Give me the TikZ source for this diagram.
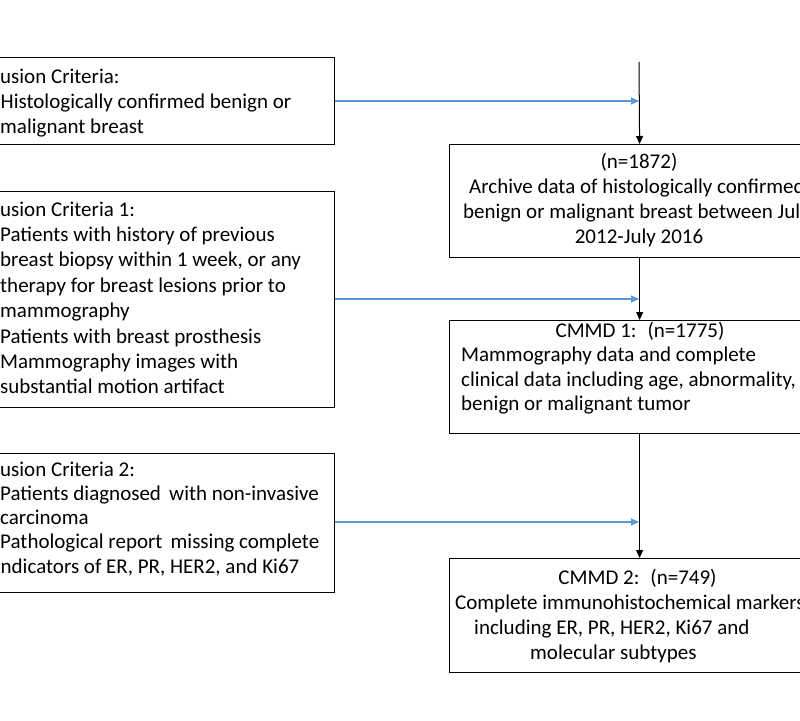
\documentclass[tikz,border=0pt]{standalone}
\usepackage{fontspec}
\setmainfont{Carlito}
\usetikzlibrary{arrows.meta}
\definecolor{arrowblue}{HTML}{5B9BD5}
\begin{document}
\begin{tikzpicture}[x=1pt,y=-1pt,
  box/.style={draw=black,line width=1.2pt,inner sep=0,anchor=north west},
  txt/.style={inner sep=0,font=\fontsize{21}{25}\selectfont},
  bluearrow/.style={draw=arrowblue,line width=1.1pt,-{Triangle[length=8pt,width=7pt]}},
  blackarrow/.style={draw=black,line width=1pt,-{Triangle[length=8pt,width=7pt]}}]
\useasboundingbox (0,0) rectangle (800,720);
\fill[white] (0,0) rectangle (800,720);
\clip (0,0) rectangle (800,720);
% left boxes
\node[box,minimum width=384pt,minimum height=87pt] (lb1) at (-50,57) {};
\node[box,minimum width=384pt,minimum height=216pt] (lb2) at (-50,191) {};
\node[box,minimum width=384pt,minimum height=139pt] (lb3) at (-50,453) {};
% right boxes
\node[box,minimum width=380pt,minimum height=113pt] (rb1) at (449,144) {};
\node[box,minimum width=380pt,minimum height=113pt] (rb2) at (449,320) {};
\node[box,minimum width=380pt,minimum height=114pt] (rb3) at (449,558) {};
% connectors
\coordinate (top) at (639,62);
\coordinate (j1) at (639,101);
\coordinate (j2) at (639,299);
\coordinate (j3) at (639,522);
\draw[blackarrow] (top) -- (rb1.north);
\draw[blackarrow] (rb1.south) -- (rb2.north);
\draw[blackarrow] (rb2.south) -- (rb3.north);
\draw[bluearrow] (lb1.east |- j1) -- (j1);
\draw[bluearrow] (lb2.east |- j2) -- (j2);
\draw[bluearrow] (lb3.east |- j3) -- (j3);
% left box 1 text
\node[txt,anchor=base west] (a1) at (0,83) {usion Criteria:};
\node[txt,anchor=base west] (a2) at (0.5,108) {Histologically confirmed benign or};
\node[txt,anchor=base west] (a3) at (0,133) {malignant breast};
% left box 2 text
\node[txt,anchor=base west] (b1) at (0,216) {usion Criteria 1:};
\node[txt,anchor=base west] (b2) at (0,241.4) {Patients with history of previous};
\node[txt,anchor=base west] (b3) at (0,266.8) {breast biopsy within 1 week, or any};
\node[txt,anchor=base west] (b4) at (0,292.2) {therapy for breast lesions prior to};
\node[txt,anchor=base west] (b5) at (0,317.6) {mammography};
\node[txt,anchor=base west] (b6) at (0,343) {Patients with breast prosthesis};
\node[txt,anchor=base west] (b7) at (0,368.4) {Mammography images with};
\node[txt,anchor=base west] (b8) at (0,393.8) {substantial motion artifact};
% left box 3 text
\node[txt,anchor=base west] (c1) at (0,476) {usion Criteria 2:};
\node[txt,anchor=base west] (c2) at (0,500.3) {Patients diagnosed\, with non-invasive};
\node[txt,anchor=base west] (c3) at (0,524.6) {carcinoma};
\node[txt,anchor=base west] (c4) at (0,548.9) {Pathological report\, missing complete};
\node[txt,anchor=base west] (c5) at (0.5,573.2) {ndicators of ER, PR, HER2, and Ki67};
% right box 1 text
\node[txt,anchor=base] (d1) at (639,168) {(n=1872)};
\node[txt,anchor=base west] (d2) at (469,193) {Archive data of histologically confirmed};
\node[txt,anchor=base west] (d3) at (463,218) {benign or malignant breast between July};
\node[txt,anchor=base] (d4) at (639,243) {2012-July 2016};
% right box 2 text
\node[txt,anchor=base] (e1) at (640,337) {CMMD 1:\hspace{11pt}(n=1775)};
\node[txt,anchor=base west] (e2) at (461,361.5) {Mammography data and complete};
\node[txt,anchor=base west] (e3) at (461,386) {clinical data including age, abnormality,};
\node[txt,anchor=base west] (e4) at (461,410.5) {benign or malignant tumor};
% right box 3 text
\node[txt,anchor=base] (f1) at (637.5,584) {CMMD 2:\hspace{11pt}(n=749)};
\node[txt,anchor=base west] (f2) at (455,609) {Complete immunohistochemical markers};
\node[txt,anchor=base west] (f3) at (474,634) {including ER, PR, HER2, Ki67 and};
\node[txt,anchor=base west] (f4) at (530,659) {molecular subtypes};
\end{tikzpicture}
\end{document}
